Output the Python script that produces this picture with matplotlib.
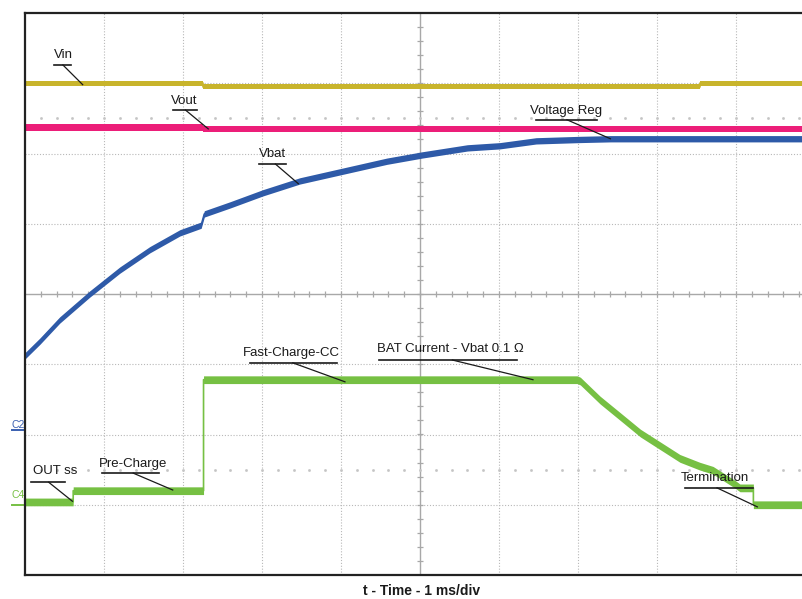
import matplotlib
matplotlib.use("Agg")
import matplotlib.pyplot as plt
import numpy as np

plt.rcParams["font.family"] = ["Liberation Sans", "DejaVu Sans"]

# scope traces, x in ms (1 ms/div), y in screen divisions (0 = centre line)
VIN_T = [0.0, 2.25, 2.25, 8.55, 8.55, 10.0]
VIN_V = [3.00, 3.00, 2.95, 2.95, 3.00, 3.00]

VOUT_T = [0.0, 2.25, 2.25, 10.0]
VOUT_V = [2.37, 2.37, 2.35, 2.35]

VBAT_T = [0.0, 0.19, 0.44, 0.82, 1.20, 1.58, 1.96, 2.23, 2.27, 2.60, 3.01,
          3.48, 4.03, 4.58, 5.03, 5.60, 6.01, 6.47, 7.03, 7.41, 10.0]
VBAT_V = [-0.88, -0.67, -0.37, 0.00, 0.34, 0.63, 0.87, 0.98, 1.14, 1.27, 1.44,
          1.61, 1.75, 1.89, 1.98, 2.08, 2.11, 2.18, 2.20, 2.21, 2.21]

IBAT_T = [0.0, 0.61, 0.61, 2.26, 2.26, 6.99, 7.03, 7.28, 7.53, 7.79, 8.04,
          8.29, 8.54, 8.71, 8.99, 9.05, 9.22, 9.22, 10.0]
IBAT_V = [-2.96, -2.96, -2.80, -2.80, -1.22, -1.22, -1.24, -1.51, -1.74, -1.98, -2.16,
          -2.34, -2.45, -2.51, -2.71, -2.76, -2.76, -3.00, -3.00]

# (text, text x, text y, underline x0, x1, y, leader start x, end x, end y)
LABELS = [
    ("Vin", 0.49, 3.40, 0.37, 0.58, 3.26, 0.48, 0.73, 2.98),
    ("Vout", 2.01, 2.75, 1.87, 2.18, 2.62, 2.03, 2.32, 2.35),
    ("Vbat", 3.13, 1.99, 2.96, 3.30, 1.85, 3.17, 3.46, 1.57),
    ("Voltage Reg", 6.85, 2.61, 6.47, 7.24, 2.48, 6.86, 7.41, 2.21),
    ("OUT ss", 0.38, -2.52, 0.08, 0.51, -2.68, 0.30, 0.60, -2.95),
    ("Pre-Charge", 1.37, -2.42, 0.98, 1.70, -2.55, 1.37, 1.87, -2.79),
    ("Fast-Charge-CC", 3.37, -0.84, 2.85, 3.95, -0.98, 3.39, 4.05, -1.25),
    ("BAT Current - Vbat 0.1 \u03a9", 5.39, -0.78, 4.48, 6.23, -0.94, 5.41, 6.43, -1.22),
    ("Termination", 8.73, -2.62, 8.35, 9.22, -2.76, 8.76, 9.27, -3.03),
]

W, H = 802, 599
fig = plt.figure(figsize=(W / 100, H / 100), dpi=100)
ax = fig.add_axes([25 / W, 24 / H, 790 / W, 562 / H])
ax.set_xlim(0, 10)
ax.set_ylim(-4, 4)
ax.set_xticks([])
ax.set_yticks([])
for s in ("left", "bottom", "top"):
    ax.spines[s].set_linewidth(1.6)
    ax.spines[s].set_color("#222222")
ax.spines["right"].set_visible(False)

# graticule
dots = (0, (1, 1.6))
for gx in range(1, 10):
    if gx != 5:
        ax.axvline(gx, color="#b8b8b8", lw=0.8, ls=dots, zorder=0)
for gy in range(-3, 4):
    if gy != 0:
        ax.axhline(gy, color="#b8b8b8", lw=0.8, ls=dots, zorder=0)
ax.axvline(5, color="#a8a8a8", lw=1.0, zorder=0)
ax.axhline(0, color="#a8a8a8", lw=1.0, zorder=0)
minor_x = np.arange(0.2, 10, 0.2)
minor_y = np.arange(-3.8, 4, 0.2)
ax.vlines(minor_x, -0.036, 0.036, color="#a8a8a8", lw=0.9, zorder=0)
ax.hlines(minor_y, 5 - 0.038, 5 + 0.038, color="#a8a8a8", lw=0.9, zorder=0)
for ry in (2.5, -2.5):
    ax.plot(minor_x, np.full_like(minor_x, ry), ls="none", marker="s", ms=0.9,
            color="#c4c4c4", zorder=0)


def trace(t, v, color, half):
    t = np.asarray(t)
    v = np.asarray(v)
    ax.fill_between(t, v - half, v + half, color=color, lw=0, zorder=2)
    ax.plot(t, v, color=color, lw=1.2, zorder=2)


trace(VIN_T, VIN_V, "#c8b42c", 0.035)
trace(VOUT_T, VOUT_V, "#ec1e79", 0.045)
trace(VBAT_T, VBAT_V, "#2e5aa8", 0.045)
trace(IBAT_T, IBAT_V, "#76c043", 0.055)

for txt, tx, ty, ux0, ux1, uy, lx, ex, ey in LABELS:
    ax.text(tx, ty, txt, ha="center", va="center", fontsize=9.5, color="#1a1a1a", zorder=5)
    ax.plot([ux0, ux1], [uy, uy], color="#1a1a1a", lw=1.2, zorder=5)
    ax.plot([lx, ex], [uy, ey], color="#1a1a1a", lw=0.9, zorder=5)

# channel markers on the left edge
ax.text(-0.09, -1.86, "C2", color="#3a5fb0", fontsize=7.5, ha="center", va="center",
        clip_on=False)
ax.plot([-0.16, -0.02], [-1.93, -1.93], color="#3a5fb0", lw=1.4, clip_on=False)
ax.text(-0.09, -2.86, "C4", color="#76c043", fontsize=7.5, ha="center", va="center",
        clip_on=False)
ax.plot([-0.16, -0.02], [-3.00, -3.00], color="#76c043", lw=1.4, clip_on=False)

fig.text(422 / W, 1 - 591 / H, "t - Time - 1 ms/div", ha="center", va="center",
         fontsize=10, fontweight="bold", color="#1a1a1a")

fig.savefig("out.png", dpi=100)
